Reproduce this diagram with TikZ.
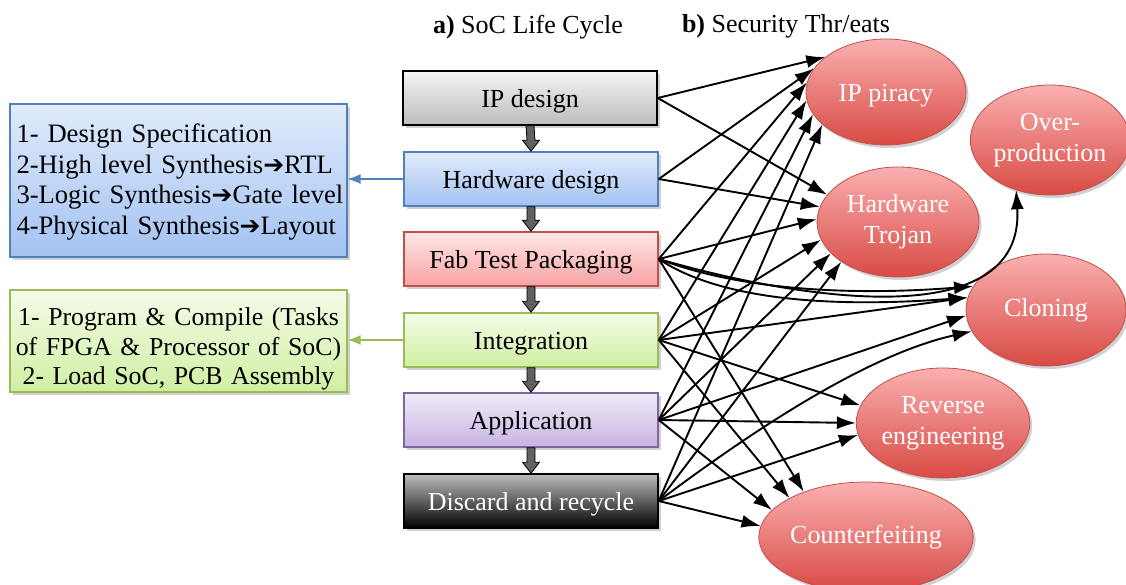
\documentclass[tikz,border=0pt]{standalone}
\usepackage{fontspec}
\setmainfont{Liberation Serif}
\newfontfamily\arrowfont{DejaVu Sans}
\usetikzlibrary{arrows.meta,shapes.geometric,shadows,calc}

\definecolor{ipTop}{HTML}{F4F4F4}\definecolor{ipBot}{HTML}{BDBDBD}
\definecolor{hwTop}{HTML}{E0EBFC}\definecolor{hwBot}{HTML}{A3C2F2}\definecolor{hwBorder}{HTML}{4F81BD}
\definecolor{fabTop}{HTML}{FFE6E6}\definecolor{fabBot}{HTML}{F6A3A3}\definecolor{fabBorder}{HTML}{C0504D}
\definecolor{intTop}{HTML}{F4FCE8}\definecolor{intBot}{HTML}{D0EFA2}\definecolor{intBorder}{HTML}{9BBB59}
\definecolor{appTop}{HTML}{F0EAF8}\definecolor{appBot}{HTML}{C8B4E3}\definecolor{appBorder}{HTML}{8064A2}
\definecolor{disTop}{HTML}{BEBEBE}\definecolor{disBot}{HTML}{000000}
\definecolor{ellTop}{HTML}{FAB0B0}\definecolor{ellBot}{HTML}{D84A44}\definecolor{ellBorder}{HTML}{C0504D}

\newcommand{\arr}{{\arrowfont\fontsize{25}{25}\selectfont ➔}}
\newcommand{\blkarrow}[2]{%
  \filldraw[blkarr] ($(#1.south)+(-4,0)$) -- ($(#1.south)+(4,0)$) -- ($(#2.north)+(4,-11)$)
    -- ($(#2.north)+(8.5,-11)$) -- (#2.north) -- ($(#2.north)+(-8.5,-11)$)
    -- ($(#2.north)+(-4,-11)$) -- cycle;}

\begin{document}
\begin{tikzpicture}[x=1pt,y=-1pt,
  every node/.style={font=\fontsize{26}{31}\selectfont},
  shadowed/.style={drop shadow={shadow xshift=2.5pt,shadow yshift=-3pt,opacity=0.3,fill=black!60}},
  stage/.style={draw, line width=1.5pt, minimum width=254pt, minimum height=54pt, inner sep=0pt,
    text height=22pt, text depth=3pt, shadowed},
  threat/.style={ellipse, draw=ellBorder, line width=0.8pt, top color=ellTop, bottom color=ellBot,
    text=white, inner sep=0pt, align=center, shadowed},
  leftbox/.style={draw, line width=1.2pt, inner ysep=0pt, shadowed},
  link/.style={-{Latex[length=19pt,width=13pt]}, line width=1.9pt},
  blkarr/.style={draw=black, line width=0.8pt, fill=black!62},
]
\useasboundingbox (0,0) rectangle (1126,585);

% titles
\node (ta) at (528,27) {\textbf{a)} SoC Life Cycle};
\node (tb) at (786,26) {\textbf{b)} Security Thr/eats};

% life cycle stages
\node[stage, top color=ipTop, bottom color=ipBot] (ip) at (530,98) {IP design};
\node[stage, draw=hwBorder, top color=hwTop, bottom color=hwBot] (hw) at (531,179) {Hardware design};
\node[stage, draw=fabBorder, top color=fabTop, bottom color=fabBot] (fab) at (531,259) {Fab Test Packaging};
\node[stage, draw=intBorder, top color=intTop, bottom color=intBot] (int) at (531,340) {Integration};
\node[stage, draw=appBorder, top color=appTop, bottom color=appBot] (app) at (531,420) {Application};
\node[stage, top color=disTop, bottom color=disBot, text=white] (dis) at (531,501) {Discard and recycle};

\blkarrow{ip}{hw}
\blkarrow{hw}{fab}
\blkarrow{fab}{int}
\blkarrow{int}{app}
\blkarrow{app}{dis}

% side boxes
\node[leftbox, draw=hwBorder, top color=hwTop, bottom color=hwBot, minimum width=337pt,
  minimum height=153pt, inner sep=0pt] (bbox) at (178.5,180.5) {};
\node[text width=327pt, inner sep=0pt, align=left, font=\fontsize{26.6}{30.8}\selectfont] (btext) at (180,182)
  {1- Design Specification\\2-High level Synthesis\arr RTL\\3-Logic Synthesis\arr Gate level\\4-Physical Synthesis\arr Layout};
\node[leftbox, draw=intBorder, top color=intTop, bottom color=intBot, minimum width=337pt,
  minimum height=102pt, inner sep=0pt] (gbox) at (178.5,341) {};
\node[text width=335pt, align=center, inner sep=0pt, font=\fontsize{25.8}{29.5}\selectfont] (gtext) at (178.5,349)
  {1- Program \& Compile (Tasks\\of FPGA \& Processor of SoC)\\2- Load SoC, PCB Assembly};

\draw[-{Latex[length=13pt,width=10pt]}, line width=1.3pt, draw=hwBorder, fill=hwBorder] (hw.west) -- (hw.west -| bbox.east);
\draw[-{Latex[length=13pt,width=10pt]}, line width=1.3pt, draw=intBorder, fill=intBorder] (int.west) -- (int.west -| gbox.east);

% threats
\node[threat, minimum width=160pt, minimum height=106pt, text height=24pt] (ipp) at (886,92) {IP piracy};
\node[threat, minimum width=162pt, minimum height=110pt] (ht) at (898,222) {Hardware\\Trojan};
\node[threat, minimum width=152pt, minimum height=110pt] (op) at (1050,140) {Over-\\production};
\node[threat, minimum width=160pt, minimum height=112pt] (cl) at (1046,310) {Cloning};
\node[threat, minimum width=160pt, minimum height=110pt] (re) at (943,423) {Reverse\\engineering};
\node[threat, minimum width=160pt, minimum height=110pt] (cf) at (866,537) {Counterfeiting};

% connectors
\draw[link] (ip.east) -- (ipp.150);
\draw[link] (ip.east) -- (ht.159);
\draw[link] (hw.east) -- (ipp.162);
\draw[link] (hw.east) -- (ht.169);
\draw[link] (fab.east) -- (ipp.173);
\draw[link] (fab.east) -- (ht.178);
\draw[link] (fab.east) .. controls (800,300) and (1025,335) .. (op.236);
\draw[link] (fab.east) .. controls (740,290) and (850,296) .. (cl.162);
\draw[link] (fab.east) .. controls (720,300) and (830,308) .. (cl.171);
\draw[link] (fab.east) -- (cf.144);
\draw[link] (int.east) -- (ipp.186);
\draw[link] (int.east) -- (ht.193);
\draw[link] (int.east) -- (cl.171);
\draw[link] (int.east) -- (re.168);
\draw[link] (int.east) -- (cf.153);
\draw[link] (app.east) -- (ipp.197);
\draw[link] (app.east) -- (ht.205);
\draw[link] (app.east) -- (cl.184);
\draw[link] (app.east) -- (re.180);
\draw[link] (app.east) -- (cf.164);
\draw[link] (dis.east) -- (ipp.207);
\draw[link] (dis.east) -- (ht.215);
\draw[link] (dis.east) .. controls (780,410) and (880,352) .. (cl.196);
\draw[link] (dis.east) -- (re.188);
\draw[link] (dis.east) -- (cf.174);
\end{tikzpicture}
\end{document}
